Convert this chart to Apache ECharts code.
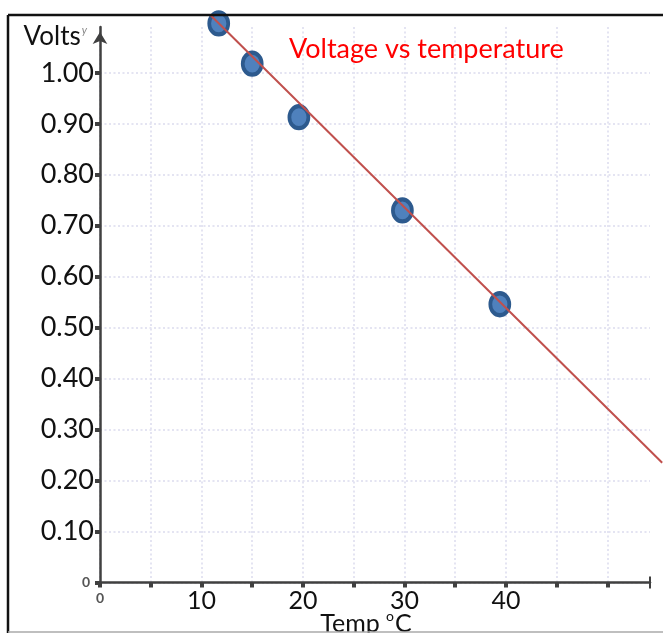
<!DOCTYPE html>
<html>
<head>
<meta charset="utf-8">
<script src="https://cdn.jsdelivr.net/npm/echarts@6/dist/echarts.min.js"></script>
<style>
  html, body { margin: 0; padding: 0; background: #fff; }
  #chart { width: 663px; height: 633px; }
</style>
</head>
<body>
<div id="chart"></div>
<script>
// measured points (temp °C, volts)
var temps = [11.7, 15.0, 19.6, 29.8, 39.4];
var volts = [1.097, 1.018, 0.913, 0.730, 0.546];
// trend line end points as drawn
var fitTemps = [10.9, 55.4];
var fitVolts = [1.113, 0.235];

var xTicks = [0, 5, 10, 15, 20, 25, 30, 35, 40, 45, 50];
var xLabels = [0, 10, 20, 30, 40];
var yTicks = [0, 0.1, 0.2, 0.3, 0.4, 0.5, 0.6, 0.7, 0.8, 0.9, 1.0];

var font = 'Lato';
var axisColor = '#404040';
var gridLine = { color: '#e4e4f2', width: 2, type: [2, 2.5] };

var chart = echarts.init(document.getElementById('chart'));

var option = {
  animation: false,
  title: {
    text: 'Voltage vs temperature',
    left: 284,
    top: 31,
    textStyle: { color: '#ff0000', fontSize: 27, fontWeight: 'normal', fontFamily: font }
  },
  grid: [
    { left: 100, top: 27, right: 13, bottom: 50.5, outerBoundsMode: 'none', containLabel: false },
    // same scale, wider extent, so the trend line can run past the axis end
    { left: 100, top: 27, right: 0, bottom: 50.5, outerBoundsMode: 'none', containLabel: false }
  ],
  xAxis: [{
    type: 'value',
    gridIndex: 0,
    min: 0,
    max: 54.2,
    interval: 5,
    name: 'Temp {o|o}C',
    nameLocation: 'middle',
    nameGap: 27,
    nameMoveOverlap: false,
    nameTextStyle: {
      fontFamily: font, fontSize: 25, color: '#111',
      padding: [0, 18, 0, 0],
      rich: { o: { fontFamily: font, fontSize: 14, color: '#111', padding: [0, 1, 14, 0] } }
    },
    axisLine: {
      lineStyle: { color: axisColor, width: 2.5 },
      symbol: ['none', 'rect'],
      symbolSize: [12, 2]
    },
    axisTick: {
      customValues: xTicks,
      length: 5,
      lineStyle: { color: axisColor, width: 4 }
    },
    axisLabel: {
      customValues: xLabels,
      margin: 6,
      fontFamily: font,
      fontSize: 25,
      color: '#111',
      formatter: function (v) { return v === 0 ? '{z|0}' : String(v); },
      rich: { z: { fontFamily: font, fontSize: 14, fontWeight: 'bold', color: '#555', padding: [3, 0, 0, 0] } }
    },
    splitLine: { show: true, lineStyle: gridLine }
  }, {
    type: 'value',
    gridIndex: 1,
    min: 0,
    max: 55.48,
    show: false
  }],
  yAxis: [{
    type: 'value',
    gridIndex: 0,
    min: 0,
    max: 1.09,
    interval: 0.1,
    name: 'Volts{s|y}',
    nameLocation: 'end',
    nameGap: -10,
    nameMoveOverlap: false,
    nameTextStyle: {
      fontFamily: font, fontSize: 26, color: '#111',
      align: 'right', verticalAlign: 'middle',
      padding: [0, 13, 0, 0],
      rich: { s: { fontFamily: font, fontSize: 11, fontStyle: 'italic', color: '#888', padding: [0, 0, 14, 1] } }
    },
    axisLine: {
      show: true,
      lineStyle: { color: axisColor, width: 2.5 },
      symbol: ['none', 'arrow'],
      symbolSize: [11, 12],
      symbolOffset: [0, -5]
    },
    axisTick: {
      show: true,
      customValues: yTicks,
      length: 5,
      lineStyle: { color: axisColor, width: 4 }
    },
    axisLabel: {
      customValues: yTicks,
      margin: 6,
      fontFamily: font,
      fontSize: 27,
      color: '#111',
      formatter: function (v) { return v === 0 ? '{z|0}' : v.toFixed(2); },
      rich: { z: { fontFamily: font, fontSize: 14, fontWeight: 'bold', color: '#555', padding: [0, 4, 0, 0] } }
    },
    splitLine: { show: true, lineStyle: gridLine }
  }, {
    type: 'value',
    gridIndex: 1,
    min: 0,
    max: 1.09,
    show: false
  }],
  series: [
    {
      type: 'line',
      xAxisIndex: 1,
      yAxisIndex: 1,
      data: fitTemps.map(function (t, i) { return [t, fitVolts[i]]; }),
      showSymbol: false,
      clip: false,
      lineStyle: { color: '#c0504d', width: 2 },
      z: 3
    },
    {
      type: 'scatter',
      data: temps.map(function (t, i) { return [t, volts[i]]; }),
      symbol: 'path://M0,-1A1,1 0 1 1 0,1A1,1 0 1 1 0,-1Z',
      symbolSize: [19, 22],
      clip: false,
      itemStyle: { color: '#4f81bd', borderColor: '#2d5a8e', borderWidth: 4, opacity: 1 },
      z: 2
    }
  ],
  graphic: [
    { type: 'line', shape: { x1: 8, y1: 15, x2: 663, y2: 15 }, style: { stroke: '#111', lineWidth: 2.5 }, z: 10 },
    { type: 'line', shape: { x1: 8, y1: 15, x2: 8, y2: 633 }, style: { stroke: '#111', lineWidth: 2.5 }, z: 10 },
    { type: 'line', shape: { x1: 8, y1: 632, x2: 663, y2: 632 }, style: { stroke: '#aaa', lineWidth: 1.5 }, z: 10 }
  ]
};

chart.setOption(option);
</script>
</body>
</html>
